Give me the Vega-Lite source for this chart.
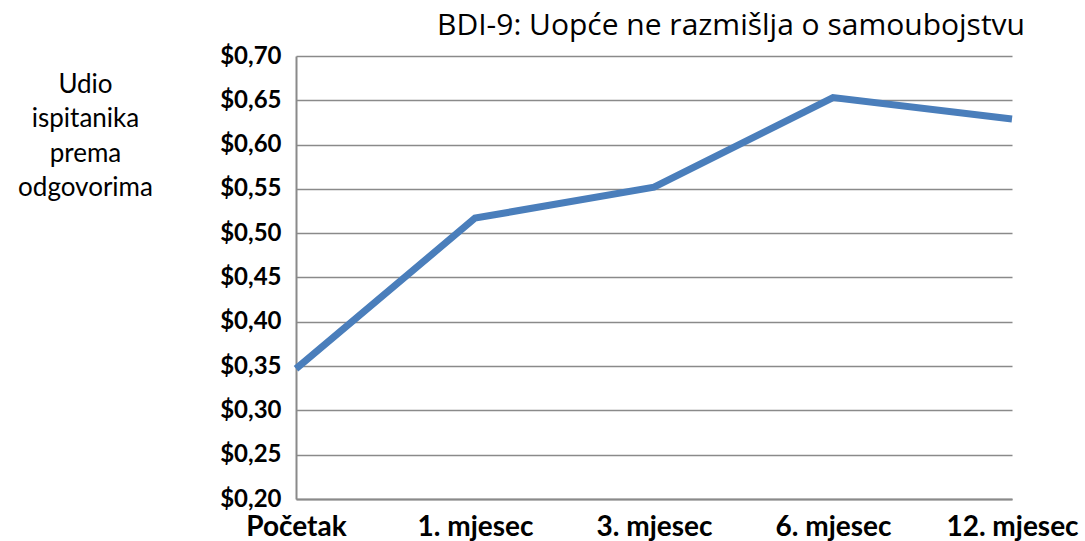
{
  "$schema": "https://vega.github.io/schema/vega-lite/v6.json",
  "autosize": {"type": "none"},
  "padding": {"left": 296, "top": 56, "right": 73, "bottom": 42},
  "width": 716,
  "height": 443,
  "background": "white",
  "config": {"view": {"stroke": null}, "font": "Lato"},
  "title": {
    "text": "BDI-9: Uopće ne razmišlja o samoubojstvu",
    "anchor": "end",
    "frame": "group",
    "dx": 13,
    "offset": 3,
    "fontSize": 30,
    "fontWeight": "normal",
    "font": "Open Sans",
    "color": "#000000"
  },
  "data": {
    "values": [
      {"period": "Početak", "value": 0.347},
      {"period": "1. mjesec", "value": 0.517},
      {"period": "3. mjesec", "value": 0.552},
      {"period": "6. mjesec", "value": 0.653},
      {"period": "12. mjesec", "value": 0.629}
    ]
  },
  "mark": {"type": "line", "color": "#4A7EBB", "strokeWidth": 7, "strokeCap": "butt", "strokeJoin": "miter"},
  "encoding": {
    "x": {
      "field": "period",
      "type": "ordinal",
      "sort": null,
      "scale": {"type": "point", "padding": 0},
      "axis": {
        "title": null,
        "labelAngle": 0,
        "labelFont": "Lato",
        "labelFontSize": 28,
        "labelFontWeight": "bold",
        "labelColor": "#000000",
        "labelPadding": 14,
        "ticks": false,
        "domainColor": "#8a8a8a",
        "domainWidth": 2,
        "grid": false
      }
    },
    "y": {
      "field": "value",
      "type": "quantitative",
      "scale": {"domain": [0.2, 0.7], "nice": false, "zero": false},
      "axis": {
        "values": [0.2, 0.25, 0.3, 0.35, 0.4, 0.45, 0.5, 0.55, 0.6, 0.65, 0.7],
        "labelExpr": "'$' + replace(format(datum.value, '.2f'), '.', ',')",
        "labelFont": "Lato",
        "labelFontSize": 24,
        "labelFontWeight": "bold",
        "labelColor": "#000000",
        "labelPadding": 15,
        "ticks": false,
        "domainColor": "#8a8a8a",
        "domainWidth": 2,
        "gridColor": "#8a8a8a",
        "gridWidth": 1.5,
        "title": ["Udio", "ispitanika", "prema", "odgovorima"],
        "titleFont": "Lato",
        "titleFontSize": 26,
        "titleFontWeight": "normal",
        "titleColor": "#000000",
        "titleAngle": 0,
        "titleAlign": "center",
        "titleBaseline": "top",
        "titleLineHeight": 34.5,
        "titleX": -211,
        "titleY": 15
      }
    }
  }
}
